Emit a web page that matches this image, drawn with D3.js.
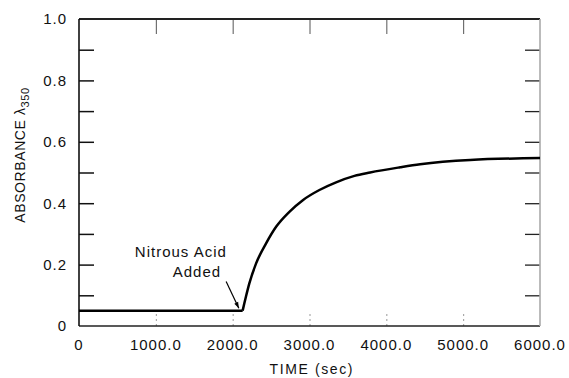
<!DOCTYPE html>
<html>
<head>
<meta charset="utf-8">
<script src="https://cdn.jsdelivr.net/npm/d3@7"></script>
<style>
  body { margin: 0; background: #fff; }
  svg { display: block; font-family: "Liberation Sans", Arial, sans-serif; }
</style>
</head>
<body>
<div id="container"></div>
<script>
/* CONSTANTS AND GLOBALS */
const width = 569,
  height = 378,
  margin = {top: 19, bottom: 52, left: 79, right: 29};

// flat part before the acid goes in
const baseTime = [0, 2130];
const baseAbs = [0.05, 0.05];

// rise after nitrous acid added
const riseTime = [2130, 2152, 2174, 2217, 2305, 2435, 2565, 2738, 2913, 3129, 3346, 3585, 3789, 4180, 4440, 5091, 6000];
const riseAbs = [0.05, 0.074, 0.097, 0.139, 0.204, 0.269, 0.323, 0.372, 0.410, 0.443, 0.468, 0.489, 0.50, 0.517, 0.527, 0.541, 0.547];

const xTicks = [0, 1000, 2000, 3000, 4000, 5000, 6000];
const xTickLabels = ["0", "1000.0", "2000.0", "3000.0", "4000.0", "5000.0", "6000.0"];
const yTicks = [0, 0.2, 0.4, 0.6, 0.8, 1.0];
const yTickLabels = ["0", "0.2", "0.4", "0.6", "0.8", "1.0"];
const yMinorTicks = [0.1, 0.2, 0.3, 0.4, 0.5, 0.6, 0.7, 0.8, 0.9];

const svg = d3.select("#container")
  .append("svg")
  .attr("width", width)
  .attr("height", height);

/* SCALES */
const xScale = d3.scaleLinear()
  .domain([0, 6000])
  .range([margin.left, width - margin.right]);

const yScale = d3.scaleLinear()
  .domain([0, 1])
  .range([height - margin.bottom, margin.top]);

/* AXES */
// left: ticks inward, labels only on majors
const leftAxis = svg.append("g")
  .attr("transform", `translate(${margin.left},0)`)
  .call(d3.axisLeft(yScale).tickValues(yMinorTicks).tickSize(-15).tickFormat(""));
leftAxis.select(".domain").remove();
leftAxis.selectAll("line").attr("stroke", "#111").attr("stroke-width", 1.5);

svg.append("g")
  .selectAll("text")
  .data(yTicks)
  .join("text")
  .attr("x", margin.left - 12)
  .attr("y", d => yScale(d))
  .attr("dy", "0.36em")
  .attr("text-anchor", "end")
  .attr("font-size", 15)
  .attr("letter-spacing", 1)
  .attr("fill", "#111")
  .text((d, i) => yTickLabels[i]);

// right
const rightAxis = svg.append("g")
  .attr("transform", `translate(${width - margin.right},0)`)
  .call(d3.axisRight(yScale).tickValues(yMinorTicks).tickSize(-15).tickFormat(""));
rightAxis.select(".domain").remove();
rightAxis.selectAll("line").attr("stroke", "#222").attr("stroke-width", 1.3);

// top ticks
const topAxis = svg.append("g")
  .attr("transform", `translate(0,${margin.top})`)
  .call(d3.axisTop(xScale).tickValues(xTicks.slice(1, -1)).tickSize(-15).tickFormat(""));
topAxis.select(".domain").remove();
topAxis.selectAll("line").attr("stroke", "#555").attr("stroke-width", 1);

// bottom ticks, faint and broken
const bottomAxis = svg.append("g")
  .attr("transform", `translate(0,${height - margin.bottom})`)
  .call(d3.axisBottom(xScale).tickValues(xTicks.slice(1, -1)).tickSize(-15).tickFormat(""));
bottomAxis.select(".domain").remove();
bottomAxis.selectAll("line")
  .attr("stroke", "#999")
  .attr("stroke-width", 1)
  .attr("stroke-dasharray", "2,3");

svg.append("g")
  .selectAll("text")
  .data(xTicks)
  .join("text")
  .attr("x", d => xScale(d))
  .attr("y", height - margin.bottom + 24)
  .attr("text-anchor", "middle")
  .attr("font-size", 15)
  .attr("letter-spacing", 1)
  .attr("fill", "#111")
  .text((d, i) => xTickLabels[i]);

// frame
const x0 = xScale(0), x1 = xScale(6000), y0 = yScale(0), y1 = yScale(1);
svg.append("line").attr("x1", x0).attr("x2", x1).attr("y1", y1).attr("y2", y1)
  .attr("stroke", "#222").attr("stroke-width", 2);
svg.append("line").attr("x1", x0).attr("x2", x1).attr("y1", y0).attr("y2", y0)
  .attr("stroke", "#222").attr("stroke-width", 1.6);
svg.append("line").attr("x1", x0).attr("x2", x0).attr("y1", y1).attr("y2", y0)
  .attr("stroke", "#111").attr("stroke-width", 1.6);
svg.append("line").attr("x1", x1).attr("x2", x1).attr("y1", y1).attr("y2", y0)
  .attr("stroke", "#aaa").attr("stroke-width", 1.6);

/* TITLES */
svg.append("text")
  .attr("x", xScale(3030))
  .attr("y", height - 4)
  .attr("text-anchor", "middle")
  .attr("font-size", 14)
  .attr("letter-spacing", 1.6)
  .attr("fill", "#111")
  .text("TIME (sec)");

const yTitle = svg.append("text")
  .attr("transform", `translate(25,155) rotate(-90)`)
  .attr("text-anchor", "middle")
  .attr("font-size", 14)
  .attr("letter-spacing", 0.6)
  .attr("fill", "#111");
yTitle.append("tspan").text("ABSORBANCE λ");
yTitle.append("tspan").attr("font-size", 11).attr("dy", 4).text("350");

/* DATA LINES */
const line = d3.line()
  .x(d => xScale(d[0]))
  .y(d => yScale(d[1]));

svg.append("path")
  .datum(baseTime.map((t, i) => [t, baseAbs[i]]))
  .attr("d", line)
  .attr("fill", "none")
  .attr("stroke", "#000")
  .attr("stroke-width", 2.5);

svg.append("path")
  .datum(riseTime.map((t, i) => [t, riseAbs[i]]))
  .attr("d", line.curve(d3.curveMonotoneX))
  .attr("fill", "none")
  .attr("stroke", "#000")
  .attr("stroke-width", 2.5)
  .attr("stroke-linejoin", "round");

/* ANNOTATION */
svg.append("defs").append("marker")
  .attr("id", "arrow")
  .attr("viewBox", "0 0 10 10")
  .attr("refX", 10).attr("refY", 5)
  .attr("markerWidth", 10).attr("markerHeight", 6)
  .attr("markerUnits", "userSpaceOnUse")
  .attr("orient", "auto")
  .append("path")
  .attr("d", "M0,1.5 L10,5 L0,8.5 Z")
  .attr("fill", "#000");

const note = svg.append("text")
  .attr("text-anchor", "end")
  .attr("font-size", 15)
  .attr("letter-spacing", 1)
  .attr("fill", "#111");
note.append("tspan").attr("x", xScale(1925)).attr("y", yScale(0.225)).text("Nitrous Acid");
note.append("tspan").attr("x", xScale(1850)).attr("y", yScale(0.16)).text("Added");

svg.append("line")
  .attr("x1", xScale(1915)).attr("y1", yScale(0.145))
  .attr("x2", xScale(2080)).attr("y2", yScale(0.058))
  .attr("stroke", "#000")
  .attr("stroke-width", 1.2)
  .attr("marker-end", "url(#arrow)");
</script>
</body>
</html>
